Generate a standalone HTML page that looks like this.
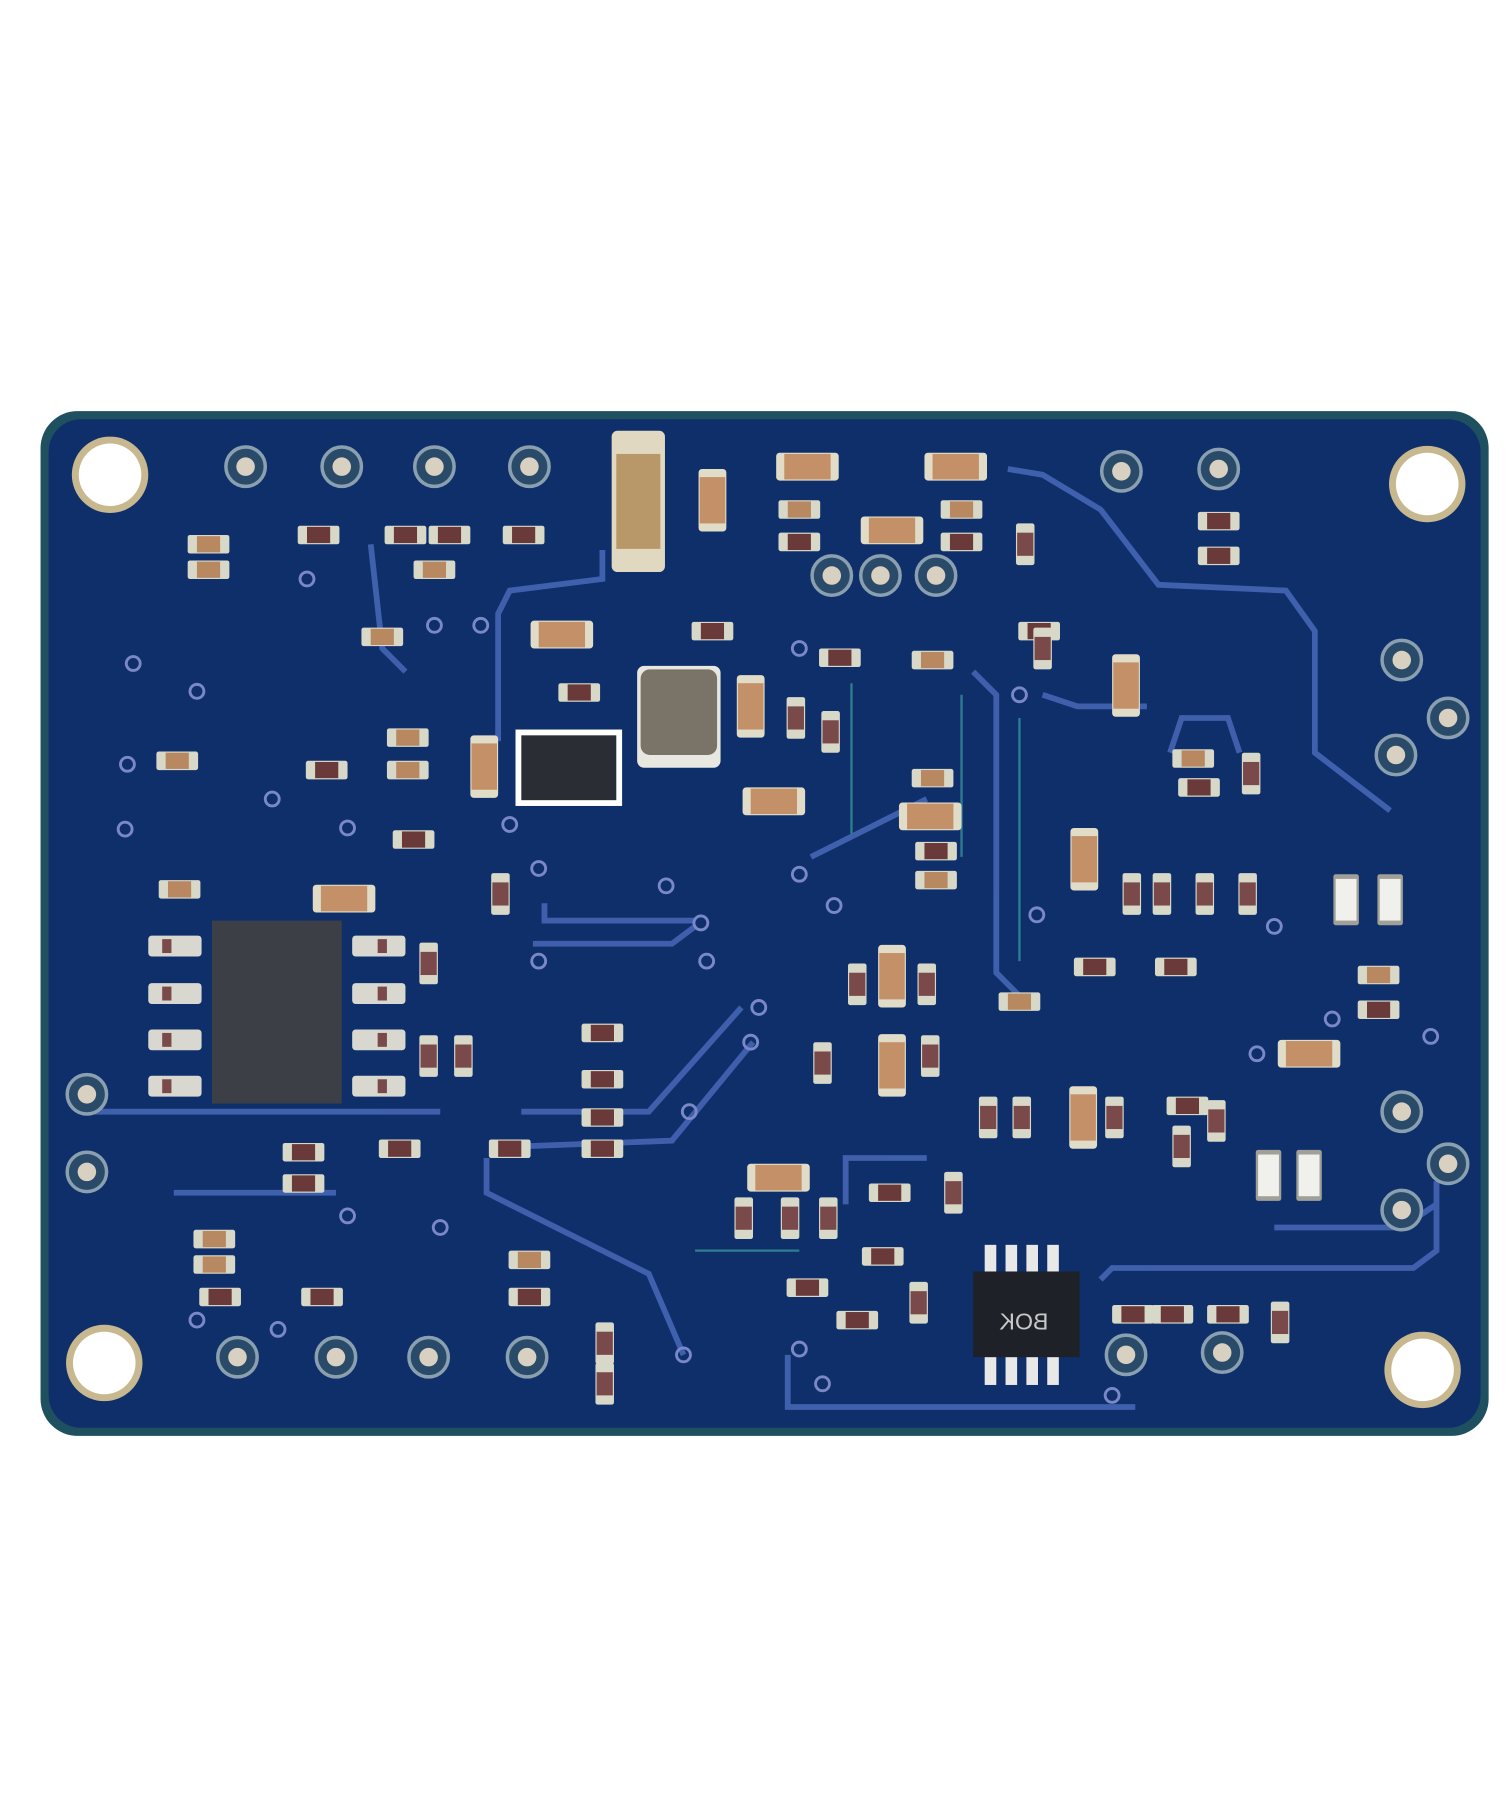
<!DOCTYPE html>
<html><head><meta charset="utf-8"><style>html,body{margin:0;padding:0;background:#fff}svg{display:block}</style></head><body>
<svg width="1506" height="1803" viewBox="0 0 1300 1557" preserveAspectRatio="none" xmlns="http://www.w3.org/2000/svg">
<defs>
<g id="r"><rect x="-18" y="-8" width="36" height="16" fill="#d8d8c8" rx="2"/><rect x="-10" y="-7" width="20" height="14" fill="#6a3a3a"/></g>
<g id="rt"><rect x="-18" y="-8" width="36" height="16" fill="#d8d8c8" rx="2"/><rect x="-10" y="-7" width="20" height="14" fill="#b88860"/></g>
<g id="c"><rect x="-27" y="-12" width="54" height="24" fill="#e0dcc8" rx="3"/><rect x="-20" y="-11" width="40" height="22" fill="#c49068"/></g>
<g id="cv"><rect x="-12" y="-27" width="24" height="54" fill="#e0dcc8" rx="3"/><rect x="-11" y="-20" width="22" height="40" fill="#c49068"/></g>
<g id="rv"><rect x="-8" y="-18" width="16" height="36" fill="#d8d8c8" rx="2"/><rect x="-7" y="-10" width="14" height="20" fill="#7a4a4a"/></g>
<g id="wv"><rect x="-11" y="-22" width="22" height="44" fill="#a0a098" rx="2"/><rect x="-9" y="-18" width="18" height="36" fill="#f0f0ec"/></g>
<g id="p"><circle r="17" fill="#2a4a6a" stroke="#8aa0b0" stroke-width="3"/><circle r="8" fill="#d8d0c0"/></g>
<g id="v"><circle r="6" fill="none" stroke="#7a88c8" stroke-width="2.5"/></g>
<g id="h"><circle r="33" fill="#c8b890"/><circle r="27" fill="#fff"/></g>
</defs>
<rect x="35" y="355" width="1250" height="885" rx="32" fill="#1e5060"/>
<rect x="42" y="362" width="1236" height="871" rx="28" fill="#0f2f6a"/>
<g fill="none" stroke="#4868b8" stroke-width="5" opacity="0.85">
<path d="M870 405 L900 410 L950 440 L1000 505 L1110 510 L1135 545 L1135 650 L1200 700"/>
<path d="M520 475 L520 500 L440 510 L430 530 L430 640"/>
<path d="M840 580 L860 600 L860 840 L880 860"/>
<path d="M700 740 L800 690"/>
<path d="M950 1105 L960 1095 L1220 1095 L1240 1080 L1240 1020"/>
<path d="M680 1170 L680 1215 L850 1215 L980 1215"/>
<path d="M420 1000 L420 1030 L560 1100 L590 1170"/>
<path d="M600 800 L580 815 L460 815"/>
<path d="M470 780 L470 795 L600 795"/>
<path d="M70 960 L300 960 L380 960"/>
<path d="M150 1030 L290 1030"/>
<path d="M640 870 L560 960 L450 960"/>
<path d="M650 900 L580 985 L450 990"/>
<path d="M1100 1060 L1210 1060 L1240 1040"/>
<path d="M1010 650 L1020 620 L1060 620 L1070 650"/>
<path d="M900 600 L930 610 L990 610"/>
<path d="M320 470 L330 560 L350 580"/>
<path d="M730 1040 L730 1000 L800 1000"/>
</g>
<g fill="none" stroke="#3aa0a0" stroke-width="2" opacity="0.7">
<path d="M735 590 L735 720"/><path d="M830 600 L830 740"/><path d="M880 620 L880 830"/>
<path d="M600 1080 L690 1080"/>
</g>
<use href="#h" x="95" y="410"/><use href="#h" x="1232" y="418"/><use href="#h" x="90" y="1177"/><use href="#h" x="1228" y="1183"/>
<use href="#p" x="212" y="403"/><use href="#p" x="295" y="403"/><use href="#p" x="375" y="403"/><use href="#p" x="457" y="403"/>
<use href="#p" x="968" y="407"/><use href="#p" x="1052" y="405"/><use href="#p" x="718" y="497"/><use href="#p" x="760" y="497"/><use href="#p" x="808" y="497"/>
<use href="#p" x="1210" y="570"/><use href="#p" x="1250" y="620"/><use href="#p" x="1205" y="652"/><use href="#p" x="1210" y="960"/><use href="#p" x="1250" y="1005"/><use href="#p" x="1210" y="1045"/>
<use href="#p" x="75" y="945"/><use href="#p" x="75" y="1012"/>
<use href="#p" x="205" y="1172"/><use href="#p" x="290" y="1172"/><use href="#p" x="370" y="1172"/><use href="#p" x="455" y="1172"/>
<use href="#p" x="972" y="1170"/><use href="#p" x="1055" y="1168"/>
<rect x="528" y="372" width="46" height="122" rx="5" fill="#e0d8c0"/><rect x="532" y="392" width="38" height="82" fill="#b89868"/>
<use href="#cv" x="615" y="432"/>
<use href="#c" x="697" y="403"/><use href="#c" x="825" y="403"/><use href="#c" x="770" y="458"/>
<use href="#rt" x="690" y="440"/><use href="#rt" x="830" y="440"/><use href="#r" x="690" y="468"/><use href="#r" x="830" y="468"/>
<use href="#rv" x="885" y="470"/><use href="#r" x="1052" y="450"/><use href="#r" x="1052" y="480"/>
<use href="#rt" x="180" y="470"/><use href="#rt" x="180" y="492"/><use href="#r" x="275" y="462"/><use href="#r" x="350" y="462"/><use href="#r" x="388" y="462"/><use href="#r" x="452" y="462"/><use href="#rt" x="375" y="492"/>
<use href="#rt" x="330" y="550"/><use href="#c" x="485" y="548"/><use href="#r" x="615" y="545"/><use href="#r" x="725" y="568"/><use href="#rt" x="805" y="570"/><use href="#r" x="897" y="545"/><use href="#r" x="500" y="598"/>
<rect x="445" y="630" width="92" height="66" fill="#fff"/><rect x="450" y="635" width="82" height="56" fill="#2a2e34"/>
<rect x="550" y="575" width="72" height="88" rx="6" fill="#e8e8e0"/><rect x="553" y="578" width="66" height="74" rx="8" fill="#7a7468"/>
<use href="#cv" x="418" y="662"/><use href="#rt" x="352" y="637"/><use href="#rt" x="352" y="665"/><use href="#r" x="282" y="665"/><use href="#rt" x="153" y="657"/><use href="#r" x="357" y="725"/>
<use href="#cv" x="648" y="610"/><use href="#rv" x="687" y="620"/><use href="#rv" x="717" y="632"/><use href="#c" x="668" y="692"/>
<use href="#rt" x="805" y="672"/><use href="#c" x="803" y="705"/><use href="#r" x="808" y="735"/><use href="#rt" x="808" y="760"/>
<use href="#rv" x="900" y="560"/><use href="#cv" x="972" y="592"/><use href="#cv" x="936" y="742"/>
<use href="#rt" x="1030" y="655"/><use href="#r" x="1035" y="680"/><use href="#rv" x="1080" y="668"/>
<use href="#rv" x="977" y="772"/><use href="#rv" x="1003" y="772"/><use href="#rv" x="1040" y="772"/><use href="#rv" x="1077" y="772"/>
<use href="#wv" x="1162" y="777"/><use href="#wv" x="1200" y="777"/>
<use href="#r" x="945" y="835"/><use href="#r" x="1015" y="835"/><use href="#rt" x="1190" y="842"/><use href="#r" x="1190" y="872"/><use href="#c" x="1130" y="910"/><use href="#rt" x="880" y="865"/>
<use href="#cv" x="770" y="843"/><use href="#rv" x="800" y="850"/><use href="#rv" x="740" y="850"/><use href="#cv" x="770" y="920"/><use href="#rv" x="710" y="918"/><use href="#rv" x="803" y="912"/>
<use href="#rv" x="853" y="965"/><use href="#rv" x="882" y="965"/><use href="#cv" x="935" y="965"/><use href="#rv" x="962" y="965"/><use href="#r" x="1025" y="955"/><use href="#rv" x="1050" y="968"/><use href="#rv" x="1020" y="990"/>
<use href="#wv" x="1095" y="1015"/><use href="#wv" x="1130" y="1015"/>
<use href="#c" x="672" y="1017"/><use href="#rv" x="642" y="1052"/><use href="#rv" x="682" y="1052"/><use href="#rv" x="715" y="1052"/><use href="#r" x="768" y="1030"/><use href="#rv" x="823" y="1030"/><use href="#r" x="762" y="1085"/><use href="#rv" x="793" y="1125"/><use href="#r" x="740" y="1140"/><use href="#r" x="697" y="1112"/>
<g fill="#e8e8e8"><rect x="850" y="1075" width="10" height="28"/><rect x="868" y="1075" width="10" height="28"/><rect x="886" y="1075" width="10" height="28"/><rect x="904" y="1075" width="10" height="28"/>
<rect x="850" y="1168" width="10" height="28"/><rect x="868" y="1168" width="10" height="28"/><rect x="886" y="1168" width="10" height="28"/><rect x="904" y="1168" width="10" height="28"/></g>
<rect x="840" y="1098" width="92" height="74" fill="#1e2228"/>
<text x="-905" y="1148" transform="scale(-1,1)" font-family="Liberation Sans, sans-serif" font-size="20" fill="#c8c8c8">BOK</text>
<use href="#r" x="978" y="1135"/><use href="#r" x="1012" y="1135"/><use href="#r" x="1060" y="1135"/><use href="#rv" x="1105" y="1142"/>
<rect x="183" y="795" width="112" height="158" fill="#3c4046"/>
<g fill="#d8d8d0"><rect x="128" y="808" width="46" height="18" rx="3"/><rect x="128" y="849" width="46" height="18" rx="3"/><rect x="128" y="889" width="46" height="18" rx="3"/><rect x="128" y="929" width="46" height="18" rx="3"/>
<rect x="304" y="808" width="46" height="18" rx="3"/><rect x="304" y="849" width="46" height="18" rx="3"/><rect x="304" y="889" width="46" height="18" rx="3"/><rect x="304" y="929" width="46" height="18" rx="3"/></g>
<g fill="#7a4a4a"><rect x="140" y="811" width="8" height="12"/><rect x="140" y="852" width="8" height="12"/><rect x="140" y="892" width="8" height="12"/><rect x="140" y="932" width="8" height="12"/><rect x="326" y="811" width="8" height="12"/><rect x="326" y="852" width="8" height="12"/><rect x="326" y="892" width="8" height="12"/><rect x="326" y="932" width="8" height="12"/></g>
<use href="#rt" x="155" y="768"/><use href="#c" x="297" y="776"/><use href="#rv" x="370" y="832"/><use href="#rv" x="370" y="912"/><use href="#rv" x="400" y="912"/><use href="#rv" x="432" y="772"/>
<use href="#r" x="520" y="892"/><use href="#r" x="520" y="932"/><use href="#r" x="520" y="965"/><use href="#r" x="520" y="992"/><use href="#r" x="440" y="992"/><use href="#r" x="345" y="992"/>
<use href="#r" x="262" y="995"/><use href="#r" x="262" y="1022"/><use href="#rt" x="185" y="1070"/><use href="#rt" x="185" y="1092"/><use href="#r" x="190" y="1120"/><use href="#r" x="278" y="1120"/>
<use href="#rt" x="457" y="1088"/><use href="#r" x="457" y="1120"/><use href="#rv" x="522" y="1160"/><use href="#rv" x="522" y="1195"/>
<g>
<use href="#v" x="115" y="573"/><use href="#v" x="170" y="597"/><use href="#v" x="110" y="660"/><use href="#v" x="108" y="716"/><use href="#v" x="235" y="690"/><use href="#v" x="300" y="715"/><use href="#v" x="265" y="500"/><use href="#v" x="375" y="540"/><use href="#v" x="415" y="540"/><use href="#v" x="440" y="712"/><use href="#v" x="465" y="750"/><use href="#v" x="575" y="765"/><use href="#v" x="605" y="797"/><use href="#v" x="465" y="830"/><use href="#v" x="610" y="830"/><use href="#v" x="690" y="755"/><use href="#v" x="720" y="782"/><use href="#v" x="655" y="870"/><use href="#v" x="648" y="900"/><use href="#v" x="595" y="960"/><use href="#v" x="380" y="1060"/><use href="#v" x="300" y="1050"/><use href="#v" x="170" y="1140"/><use href="#v" x="240" y="1148"/><use href="#v" x="590" y="1170"/><use href="#v" x="690" y="1165"/><use href="#v" x="710" y="1195"/><use href="#v" x="960" y="1205"/><use href="#v" x="880" y="600"/><use href="#v" x="690" y="560"/><use href="#v" x="1100" y="800"/><use href="#v" x="1085" y="910"/><use href="#v" x="895" y="790"/><use href="#v" x="1150" y="880"/><use href="#v" x="1235" y="895"/>
</g>
</svg>
</body></html>
